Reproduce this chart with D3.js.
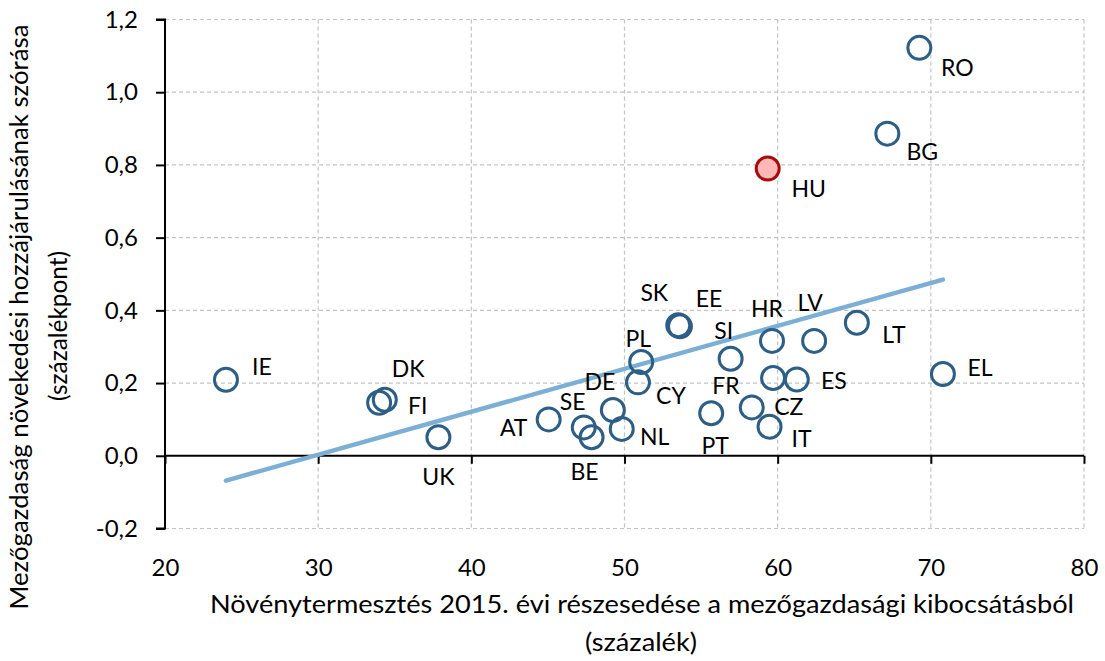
<!DOCTYPE html>
<html>
<head>
<meta charset="utf-8">
<script src="https://cdn.jsdelivr.net/npm/d3@7"></script>
<style>
  html, body { margin: 0; padding: 0; background: #fff; }
  svg { display: block; font-family: Lato, "Open Sans", sans-serif; }
</style>
</head>
<body>
<svg id="chart" width="1105" height="661"></svg>
<script>
// ---- data ----
const countries = ["RO","BG","HU","IE","DK","FI","UK","AT","SE","BE","DE","NL","PL","CY","SK","EE","SI","HR","LV","LT","EL","ES","FR","PT","CZ","IT"];
const cropShare = [69.25,67.16,59.35,23.98,33.98,34.35,37.85,45.05,47.34,47.85,49.24,49.82,51.09,50.88,53.51,53.62,56.93,59.63,62.38,65.17,70.79,61.25,59.70,55.66,58.31,59.47];
const growthStd = [1.122,0.886,0.790,0.209,0.146,0.154,0.051,0.100,0.078,0.051,0.126,0.074,0.258,0.202,0.359,0.356,0.267,0.316,0.316,0.366,0.225,0.210,0.214,0.117,0.133,0.080];
const highlighted = ["HU"];
const xTicks = [20,30,40,50,60,70,80];
const yTicks = [-0.2,0,0.2,0.4,0.6,0.8,1.0,1.2];
const xTitle = ["Növénytermesztés 2015. évi részesedése a mezőgazdasági kibocsátásból", "(százalék)"];
const yTitle = ["Mezőgazdaság növekedési hozzájárulásának szórása", "(százalékpont)"];

// ---- label placement (layout only, pixel offsets from marker) ----
const labelOffset = {
  RO:[38,20], BG:[35,18], HU:[41,20], IE:[36,-13], DK:[29,-34], FI:[33,6], UK:[0,39], AT:[-35,8],
  SE:[-11,-26], BE:[-7,34], DE:[-13,-28], NL:[33,8], PL:[-3,-23], CY:[33,13], SK:[-24,-33], EE:[29,-28],
  SI:[-7,-28], HR:[-5,-32], LV:[-4,-38], LT:[37,12], EL:[37,-6], ES:[37,1], FR:[-47,8], PT:[4,32],
  CZ:[37,-1], IT:[32,12]
};

const points = countries.map((c,i)=>({c, x: cropShare[i], y: growthStd[i]}));

const svg = d3.select("#chart");
const L = 165, R = 1084, T = 19.5, B = 528.5;
const x = d3.scaleLinear().domain([20,80]).range([L,R]);
const y = d3.scaleLinear().domain([-0.2,1.2]).range([B,T]);

// gridlines
const grid = svg.append("g");
grid.selectAll("line.h").data(yTicks.filter(d => d !== 0)).join("line")
  .attr("x1", L).attr("x2", R).attr("y1", d=>y(d)).attr("y2", d=>y(d))
  .attr("stroke", "#c4c4c4").attr("stroke-width", 1.2).attr("stroke-dasharray", "4,3");
grid.selectAll("line.v").data(xTicks.filter(d=>d>20)).join("line")
  .attr("y1", T).attr("y2", B).attr("x1", d=>x(d)).attr("x2", d=>x(d))
  .attr("stroke", "#c4c4c4").attr("stroke-width", 1.2).attr("stroke-dasharray", "4,3");

// y axis
const yAxis = d3.axisLeft(y).tickValues(yTicks).tickSize(9).tickPadding(18)
  .tickFormat(d => d3.format(".1f")(d).replace(".", ",").replace("\u2212", "-"));
const gy = svg.append("g").attr("transform", `translate(${L},0)`).call(yAxis);
gy.select(".domain").attr("stroke", "#000").attr("stroke-width", 2).attr("d", `M-9,${T}H0V${B}H-9`);
gy.selectAll(".tick line").attr("stroke", "#000").attr("stroke-width", 2);
gy.selectAll(".tick text").attr("fill", "#000").style("font-size", "24px").style("font-family", "Lato, sans-serif");

// x axis at y=0
const xAxis = d3.axisBottom(x).tickValues(xTicks).tickSize(8).tickFormat(d3.format("d"));
const gx = svg.append("g").attr("transform", `translate(0,${y(0)})`).call(xAxis);
gx.select(".domain").attr("stroke", "#000").attr("stroke-width", 2).attr("d", `M${L},0H${R}`);
gx.selectAll(".tick line").attr("stroke", "#000").attr("stroke-width", 2);
gx.selectAll(".tick text").attr("fill", "#000").style("font-size", "24px").style("font-family", "Lato, sans-serif")
  .attr("y", 576 - y(0)).attr("dy", null);

// trend line (OLS)
const mx = d3.mean(cropShare), my = d3.mean(growthStd);
const sxy = d3.sum(cropShare, (v,i)=>(v-mx)*(growthStd[i]-my));
const sxx = d3.sum(cropShare, v=>(v-mx)*(v-mx));
const slope = sxy/sxx, intercept = my - slope*mx;
const ext = d3.extent(cropShare);
svg.append("path")
  .datum(ext.map(v=>[v, intercept + slope*v]))
  .attr("d", d3.line().x(d=>x(d[0])).y(d=>y(d[1])))
  .attr("stroke", "#7bafd6").attr("stroke-width", 4.5).attr("fill", "none").attr("stroke-linecap", "round");

// markers
svg.append("g").selectAll("circle").data(points).join("circle")
  .attr("cx", d=>x(d.x)).attr("cy", d=>y(d.y)).attr("r", 11.5)
  .attr("fill", d => highlighted.includes(d.c) ? "#ffb7b7" : "#fff")
  .attr("fill-opacity", d => highlighted.includes(d.c) ? 1 : 0)
  .attr("stroke", d => highlighted.includes(d.c) ? "#a50d0d" : "#2d5f86")
  .attr("stroke-width", 3);

// labels
svg.append("g").selectAll("text").data(points).join("text")
  .attr("x", d=>x(d.x) + labelOffset[d.c][0])
  .attr("y", d=>y(d.y) + labelOffset[d.c][1])
  .attr("dy", "0.36em")
  .attr("text-anchor", "middle")
  .style("font-size", "23px").attr("fill", "#000")
  .text(d=>d.c);

// axis titles
function title(tx, ty, rot, txt, len) {
  return svg.append("text")
    .attr("transform", `translate(${tx},${ty})` + (rot ? " rotate(-90)" : ""))
    .attr("text-anchor", "middle")
    .attr("textLength", len).attr("lengthAdjust", "spacingAndGlyphs")
    .style("font-size", "25px").attr("fill", "#000")
    .text(txt);
}
title(642, 613, false, xTitle[0], 864);
title(641, 651, false, xTitle[1], 112);
title(28, 317, true, yTitle[0], 585);
title(67, 326, true, yTitle[1], 150);
</script>
</body>
</html>
